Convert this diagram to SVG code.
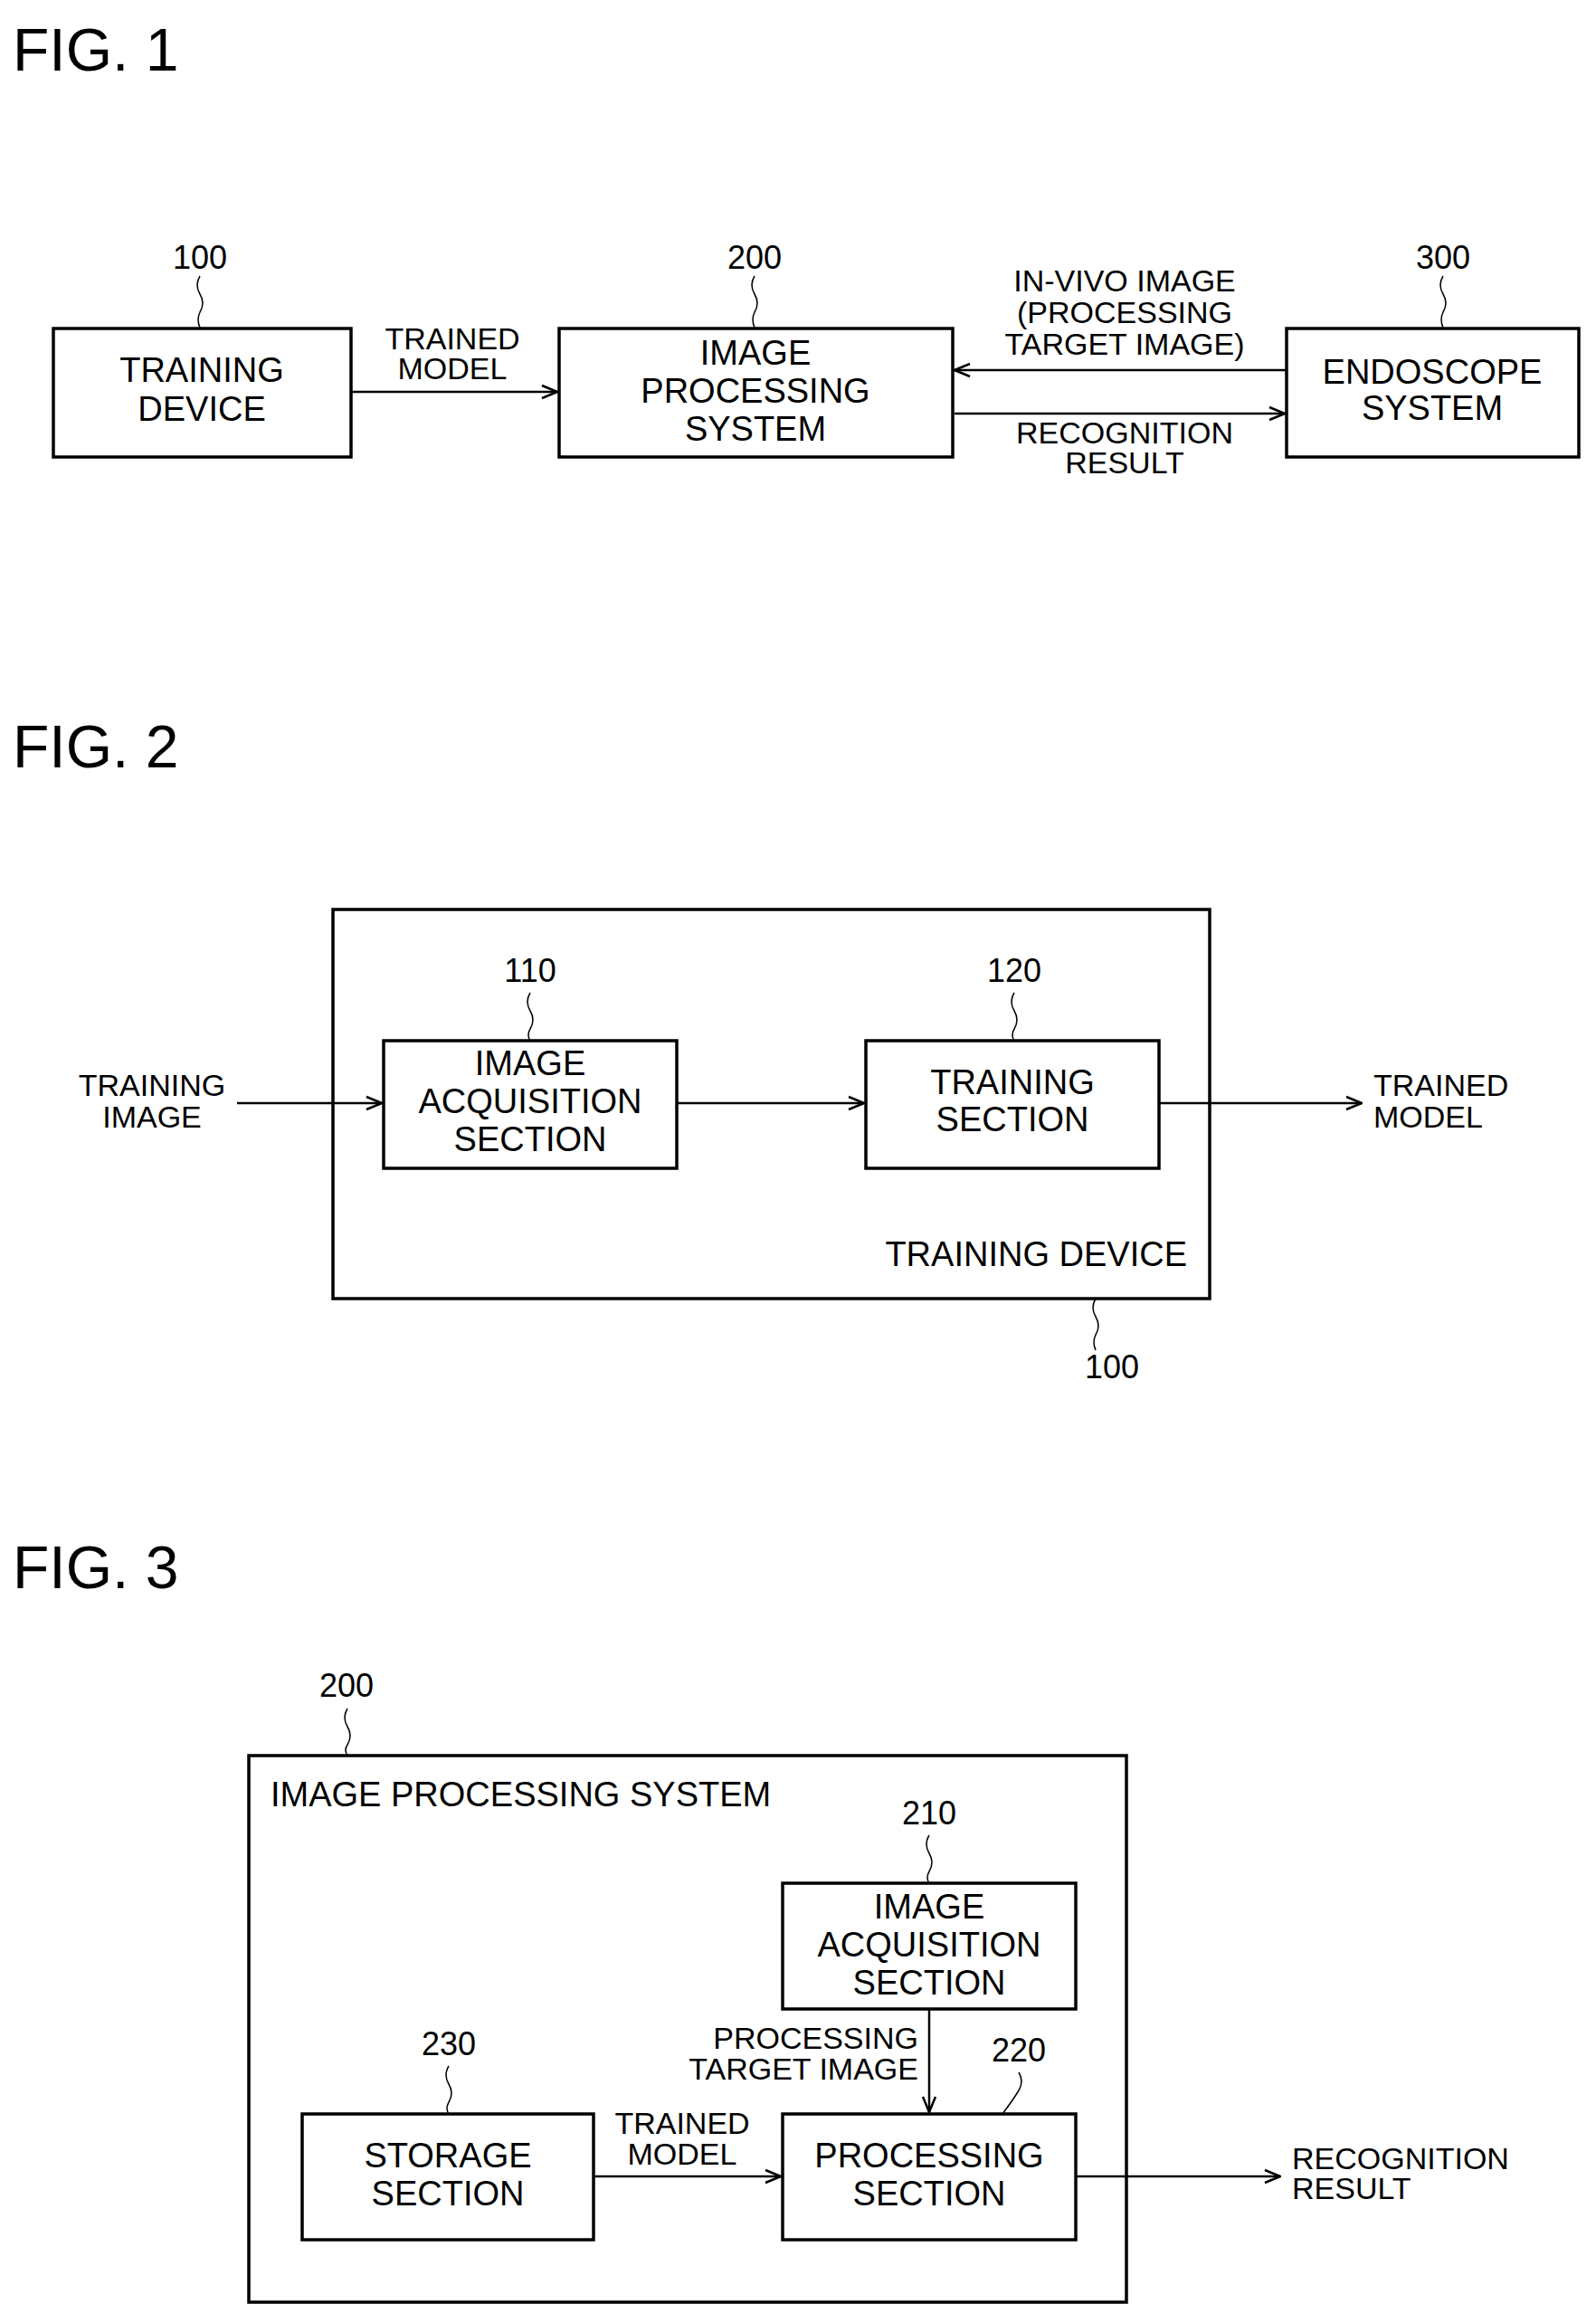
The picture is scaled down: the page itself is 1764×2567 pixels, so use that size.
<svg xmlns="http://www.w3.org/2000/svg" width="1764" height="2567" viewBox="0 0 1764 2567">
<style>
.b{fill:none;stroke:#000;stroke-width:3.5}
.c{fill:none;stroke:#000;stroke-width:2.5}
.l{fill:none;stroke:#000;stroke-width:1.5}
text{font-family:"Liberation Sans",Arial,sans-serif;fill:#000}
.t{font-size:38px;text-anchor:middle;dominant-baseline:middle}
.s{font-size:34px;text-anchor:middle;dominant-baseline:middle}
.n{font-size:36px;text-anchor:middle;dominant-baseline:middle}
.f{font-size:66px}
</style>
<defs>
<marker id="a" viewBox="0 0 20 20" refX="19" refY="10" markerWidth="20" markerHeight="20" markerUnits="userSpaceOnUse" orient="auto">
<path d="M2,3 L19,10 L2,17" fill="none" stroke="#000" stroke-width="2.5"/>
</marker>
</defs>
<text class="f" x="14" y="78">FIG. 1</text>
<text class="f" x="14" y="848">FIG. 2</text>
<text class="f" x="14" y="1755">FIG. 3</text>

<g id="connectors">
<line class="c" x1="388" y1="433" x2="616" y2="433" marker-end="url(#a)"/>
<line class="c" x1="1422" y1="409" x2="1055" y2="409" marker-end="url(#a)"/>
<line class="c" x1="1055" y1="457" x2="1420" y2="457" marker-end="url(#a)"/>
<line class="c" x1="262" y1="1219" x2="422" y2="1219" marker-end="url(#a)"/>
<line class="c" x1="748" y1="1219" x2="955" y2="1219" marker-end="url(#a)"/>
<line class="c" x1="1281" y1="1219" x2="1505" y2="1219" marker-end="url(#a)"/>
<line class="c" x1="1027" y1="2220" x2="1027" y2="2334" marker-end="url(#a)"/>
<line class="c" x1="656" y1="2405" x2="863" y2="2405" marker-end="url(#a)"/>
<line class="c" x1="1189" y1="2405" x2="1415" y2="2405" marker-end="url(#a)"/>
<path class="l" d="M221,305 q-6,10 0,20 q6,10 0,20 q-4,8 0,17"/>
<path class="l" d="M834,305 q-6,10 0,20 q6,10 0,20 q-4,8 0,17"/>
<path class="l" d="M1595,305 q-6,10 0,20 q6,10 0,20 q-4,8 0,17"/>
<path class="l" d="M586,1097 q-6,10 0,20 q6,10 0,20 q-4,7 0,13"/>
<path class="l" d="M1121,1097 q-6,10 0,20 q6,10 0,20 q-4,7 0,13"/>
<path class="l" d="M1211,1435 q-6,10 0,20 q6,10 0,20 q-4,8 0,17"/>
<path class="l" d="M384,1888 q-6,10 0,20 q6,10 0,20 q-4,6 0,12"/>
<path class="l" d="M1027,2028 q-6,10 0,20 q6,10 0,20 q-4,7 0,13"/>
<path class="l" d="M1126,2290 q6,10 0,20 q-6,10 -18,26"/>
<path class="l" d="M496,2283 q-6,10 0,20 q6,10 0,20 q-4,7 0,13"/>
</g>

<g id="fig1-labels">
<text class="n" x="221" y="287">100</text>
<text class="n" x="834" y="287">200</text>
<text class="n" x="1595" y="287">300</text>
<text class="s" x="500" y="377">TRAINED</text>
<text class="s" x="500" y="410">MODEL</text>
<text class="s" x="1243" y="313">IN-VIVO IMAGE</text>
<text class="s" x="1243" y="348">(PROCESSING</text>
<text class="s" x="1243" y="383">TARGET IMAGE)</text>
<text class="s" x="1243" y="481">RECOGNITION</text>
<text class="s" x="1243" y="514">RESULT</text>
</g>
<g id="n100">
<rect class="b" x="59" y="363" width="329" height="142"/>
<text class="t" x="223" y="412">TRAINING</text>
<text class="t" x="223" y="455">DEVICE</text>
</g>
<g id="n200">
<rect class="b" x="618" y="363" width="435" height="142"/>
<text class="t" x="835" y="393">IMAGE</text>
<text class="t" x="835" y="435">PROCESSING</text>
<text class="t" x="835" y="477">SYSTEM</text>
</g>
<g id="n300">
<rect class="b" x="1422" y="363" width="323" height="142"/>
<text class="t" x="1583" y="414">ENDOSCOPE</text>
<text class="t" x="1583" y="454">SYSTEM</text>
</g>

<g id="n100b">
<rect class="b" x="368" y="1005" width="969" height="430"/>
<text class="t" x="1312" y="1389" style="text-anchor:end">TRAINING DEVICE</text>
<text class="n" x="1229" y="1513">100</text>
</g>
<g id="fig2-labels">
<text class="s" x="168" y="1202">TRAINING</text>
<text class="s" x="168" y="1237">IMAGE</text>
<text class="s" x="1518" y="1202" style="text-anchor:start">TRAINED</text>
<text class="s" x="1518" y="1237" style="text-anchor:start">MODEL</text>
<text class="n" x="586" y="1075">110</text>
<text class="n" x="1121" y="1075">120</text>
</g>
<g id="n110">
<rect class="b" x="424" y="1150" width="324" height="141"/>
<text class="t" x="586" y="1178">IMAGE</text>
<text class="t" x="586" y="1220">ACQUISITION</text>
<text class="t" x="586" y="1262">SECTION</text>
</g>
<g id="n120">
<rect class="b" x="957" y="1150" width="324" height="141"/>
<text class="t" x="1119" y="1199">TRAINING</text>
<text class="t" x="1119" y="1240">SECTION</text>
</g>

<g id="n200b">
<rect class="b" x="275" y="1940" width="970" height="604"/>
<text class="t" x="299" y="1986" style="text-anchor:start">IMAGE PROCESSING SYSTEM</text>
<text class="n" x="383" y="1865">200</text>
</g>
<g id="fig3-labels">
<text class="n" x="1027" y="2006">210</text>
<text class="n" x="1126" y="2268">220</text>
<text class="n" x="496" y="2261">230</text>
<text class="s" x="1015" y="2255" style="text-anchor:end">PROCESSING</text>
<text class="s" x="1015" y="2289" style="text-anchor:end">TARGET IMAGE</text>
<text class="s" x="754" y="2349">TRAINED</text>
<text class="s" x="754" y="2383">MODEL</text>
<text class="s" x="1428" y="2388" style="text-anchor:start">RECOGNITION</text>
<text class="s" x="1428" y="2421" style="text-anchor:start">RESULT</text>
</g>
<g id="n210">
<rect class="b" x="865" y="2081" width="324" height="139"/>
<text class="t" x="1027" y="2110">IMAGE</text>
<text class="t" x="1027" y="2152">ACQUISITION</text>
<text class="t" x="1027" y="2194">SECTION</text>
</g>
<g id="n220">
<rect class="b" x="865" y="2336" width="324" height="139"/>
<text class="t" x="1027" y="2385">PROCESSING</text>
<text class="t" x="1027" y="2427">SECTION</text>
</g>
<g id="n230">
<rect class="b" x="334" y="2336" width="322" height="139"/>
<text class="t" x="495" y="2385">STORAGE</text>
<text class="t" x="495" y="2427">SECTION</text>
</g>
</svg>
